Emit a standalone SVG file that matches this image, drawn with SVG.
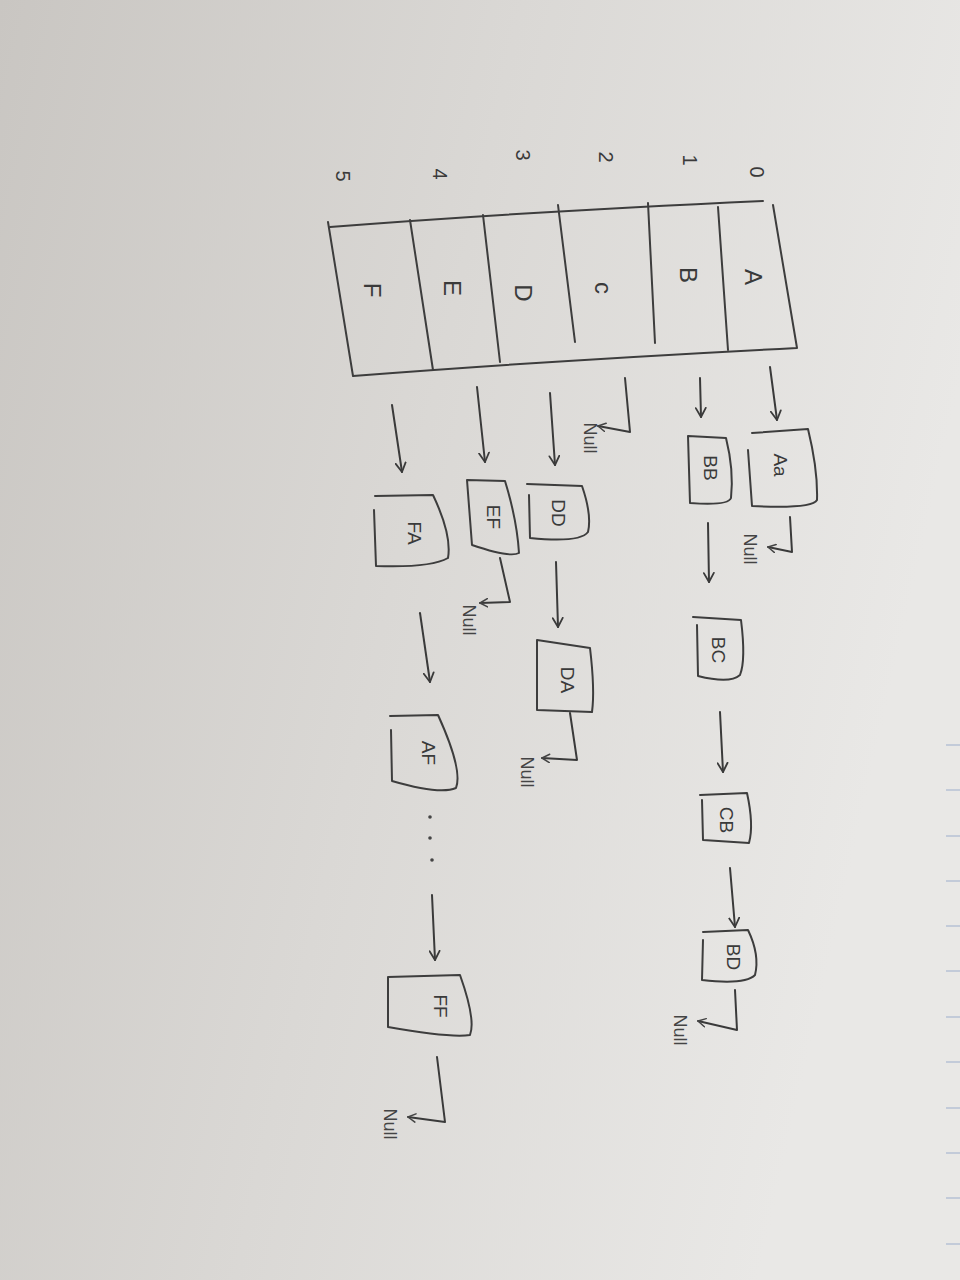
<svg xmlns="http://www.w3.org/2000/svg" width="960" height="1280" viewBox="0 0 960 1280">
<defs>
<linearGradient id="paper" x1="0" y1="0" x2="1" y2="0.3">
<stop offset="0" stop-color="#c9c6c2"/>
<stop offset="0.5" stop-color="#dad8d5"/>
<stop offset="1" stop-color="#e9e8e6"/>
</linearGradient>
<marker id="ah" viewBox="0 0 12 12" refX="10" refY="6" markerWidth="12" markerHeight="12" markerUnits="userSpaceOnUse" orient="auto">
<path d="M1,1 L10,6 L1,11" fill="none" stroke="#3a3a3a" stroke-width="1.8" stroke-linecap="round" stroke-linejoin="round"/>
</marker>
<marker id="ahs" viewBox="0 0 12 12" refX="10" refY="6" markerWidth="10" markerHeight="10" markerUnits="userSpaceOnUse" orient="auto">
<path d="M1,1 L10,6 L1,11" fill="none" stroke="#444" stroke-width="1.8" stroke-linecap="round" stroke-linejoin="round"/>
</marker>
</defs>
<style>
.ln{fill:none;stroke:#3a3a3a;stroke-width:2;stroke-linecap:round;stroke-linejoin:round}
.bx{fill:none;stroke:#3d3d3d;stroke-width:2;stroke-linejoin:round;stroke-linecap:round}
.t{font-family:"Liberation Sans",Arial,sans-serif;fill:#3a3a3a;text-anchor:middle;dominant-baseline:central}
.cell{font-size:24px}
.idx{font-size:20px}
.lbl{font-size:19px}
.nul{font-size:18px;fill:#444}
.dot{fill:#444}
</style>
<rect width="960" height="1280" fill="url(#paper)"/>
<g id="paper-lines" stroke="#8fa4c8" stroke-width="1.2" opacity="0.7">
<line x1="946" y1="745" x2="960" y2="745"/>
<line x1="946" y1="790" x2="960" y2="790"/>
<line x1="946" y1="836" x2="960" y2="836"/>
<line x1="946" y1="881" x2="960" y2="881"/>
<line x1="946" y1="926" x2="960" y2="926"/>
<line x1="946" y1="971" x2="960" y2="971"/>
<line x1="946" y1="1017" x2="960" y2="1017"/>
<line x1="946" y1="1062" x2="960" y2="1062"/>
<line x1="946" y1="1108" x2="960" y2="1108"/>
<line x1="946" y1="1153" x2="960" y2="1153"/>
<line x1="946" y1="1198" x2="960" y2="1198"/>
<line x1="946" y1="1244" x2="960" y2="1244"/>
</g>

<g id="table">
<path class="bx" d="M330,227 Q520,212 763,201"/>
<path class="bx" d="M328,222 L353,376 Q560,360 797,348 L773,205"/>
<path class="bx" d="M410,220 L433,370"/>
<path class="bx" d="M483,215 L500,362"/>
<path class="bx" d="M558,205 L575,342"/>
<path class="bx" d="M648,203 L655,343"/>
<path class="bx" d="M718,207 L728,350"/>
</g>

<g id="index-labels">
<text class="t idx" transform="translate(757,172) rotate(90)">0</text>
<text class="t idx" transform="translate(690,160) rotate(90)">1</text>
<text class="t idx" transform="translate(606,157) rotate(90)">2</text>
<text class="t idx" transform="translate(523,155) rotate(90)">3</text>
<text class="t idx" transform="translate(440,174) rotate(90)">4</text>
<text class="t idx" transform="translate(343,176) rotate(90)">5</text>
</g>

<g id="cell-A"><text class="t cell" transform="translate(753,277) rotate(90)">A</text></g>
<g id="cell-B"><text class="t cell" transform="translate(688,275) rotate(90)">B</text></g>
<g id="cell-C"><text class="t cell" transform="translate(603,288) rotate(90)">c</text></g>
<g id="cell-D"><text class="t cell" transform="translate(523,293) rotate(90)">D</text></g>
<g id="cell-E"><text class="t cell" transform="translate(452,288) rotate(90)">E</text></g>
<g id="cell-F"><text class="t cell" transform="translate(372,290) rotate(90)">F</text></g>

<g id="node-Aa">
<path class="bx" d="M752,433 L808,429 Q818,470 817,500 Q812,509 752,506 L748,450"/>
<text class="t lbl" transform="translate(780,465) rotate(90)">Aa</text>
</g>
<g id="node-BB">
<path class="bx" d="M688,436 L726,438 Q734,470 731,498 Q728,506 690,503 Z"/>
<text class="t lbl" transform="translate(710,468) rotate(90)">BB</text>
</g>
<g id="node-BC">
<path class="bx" d="M693,617 L741,620 Q746,660 740,675 Q730,684 698,676 L697,625"/>
<text class="t lbl" transform="translate(718,650) rotate(90)">BC</text>
</g>
<g id="node-CB">
<path class="bx" d="M700,795 L747,793 Q754,825 749,843 L703,840 L702,800"/>
<text class="t lbl" transform="translate(726,820) rotate(90)">CB</text>
</g>
<g id="node-BD">
<path class="bx" d="M703,932 L748,930 Q760,955 755,975 Q745,985 702,980 L703,940"/>
<text class="t lbl" transform="translate(733,957) rotate(90)">BD</text>
</g>
<g id="node-DD">
<path class="bx" d="M527,484 L582,486 Q592,515 588,532 Q580,543 530,538 L529,495"/>
<text class="t lbl" transform="translate(558,513) rotate(90)">DD</text>
</g>
<g id="node-DA">
<path class="bx" d="M537,640 L590,648 Q595,690 592,712 L537,710 Z"/>
<text class="t lbl" transform="translate(567,680) rotate(90)">DA</text>
</g>
<g id="node-EF">
<path class="bx" d="M467,480 L505,481 Q517,520 519,553 Q510,558 472,545 Z"/>
<text class="t lbl" transform="translate(493,517) rotate(90)">EF</text>
</g>
<g id="node-FA">
<path class="bx" d="M375,496 L433,495 Q452,535 448,558 Q430,568 376,566 L374,510"/>
<text class="t lbl" transform="translate(414,533) rotate(90)">FA</text>
</g>
<g id="node-AF">
<path class="bx" d="M390,716 L438,715 Q463,770 456,788 Q440,795 392,781 L391,730"/>
<text class="t lbl" transform="translate(428,753) rotate(90)">AF</text>
</g>
<g id="node-FF">
<path class="bx" d="M388,977 L460,975 Q476,1020 470,1035 Q450,1038 388,1027 Z"/>
<text class="t lbl" transform="translate(440,1006) rotate(90)">FF</text>
</g>

<g id="null-labels">
<text class="t nul" transform="translate(750,549) rotate(90)">Null</text>
<text class="t nul" transform="translate(590,438) rotate(90)">Null</text>
<text class="t nul" transform="translate(469,620) rotate(90)">Null</text>
<text class="t nul" transform="translate(527,772) rotate(90)">Null</text>
<text class="t nul" transform="translate(680,1030) rotate(90)">Null</text>
<text class="t nul" transform="translate(390,1124) rotate(90)">Null</text>
</g>

<g id="ellipsis">
<circle class="dot" cx="430" cy="817" r="1.8"/>
<circle class="dot" cx="430" cy="838" r="1.8"/>
<circle class="dot" cx="432" cy="860" r="1.8"/>
</g>

<g id="connectors">
<path class="ln" d="M770,367 L777,420" marker-end="url(#ah)"/>
<path class="ln" d="M700,378 L701,417" marker-end="url(#ah)"/>
<path class="ln" d="M625,378 L630,432 L598,426" marker-end="url(#ahs)"/>
<path class="ln" d="M550,393 L555,465" marker-end="url(#ah)"/>
<path class="ln" d="M477,387 L485,462" marker-end="url(#ah)"/>
<path class="ln" d="M392,405 L402,472" marker-end="url(#ah)"/>
<path class="ln" d="M790,517 L792,552 L768,547" marker-end="url(#ahs)"/>
<path class="ln" d="M708,523 L709,582" marker-end="url(#ah)"/>
<path class="ln" d="M720,712 L723,772" marker-end="url(#ah)"/>
<path class="ln" d="M730,868 L735,927" marker-end="url(#ah)"/>
<path class="ln" d="M735,990 L737,1030 L698,1021" marker-end="url(#ahs)"/>
<path class="ln" d="M500,558 L510,602 L480,603" marker-end="url(#ahs)"/>
<path class="ln" d="M556,562 L558,627" marker-end="url(#ah)"/>
<path class="ln" d="M570,713 L577,760 L542,758" marker-end="url(#ahs)"/>
<path class="ln" d="M420,613 L430,682" marker-end="url(#ah)"/>
<path class="ln" d="M432,895 L435,960" marker-end="url(#ah)"/>
<path class="ln" d="M437,1057 L445,1122 L408,1117" marker-end="url(#ahs)"/>
</g>
</svg>
